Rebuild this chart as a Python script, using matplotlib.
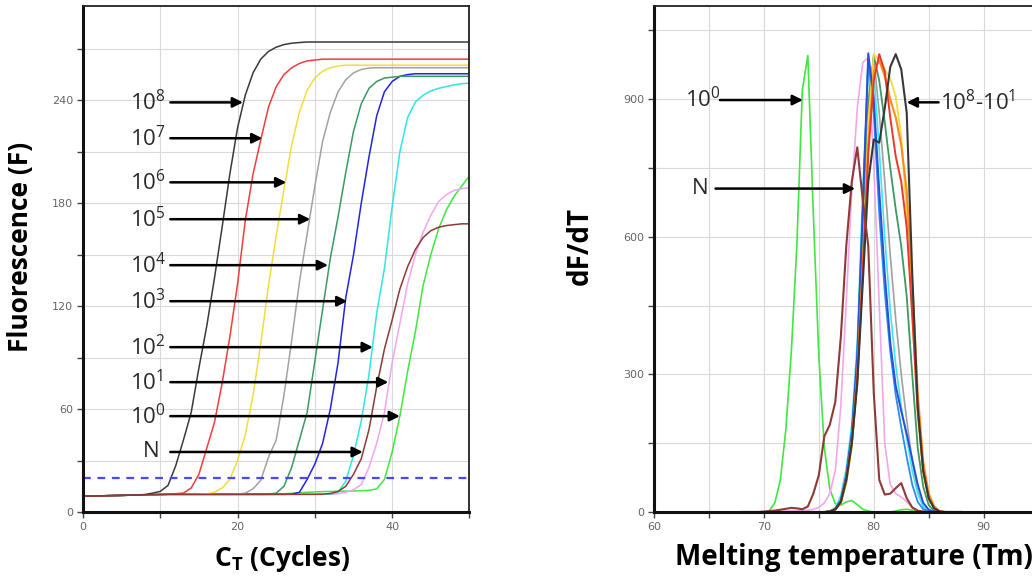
import numpy as np
import matplotlib.pyplot as plt
from matplotlib.ticker import FuncFormatter

plt.rcParams['mathtext.fontset'] = 'custom'
plt.rcParams['mathtext.rm'] = 'Open Sans'
plt.rcParams['mathtext.it'] = 'Open Sans:italic'
plt.rcParams['mathtext.bf'] = 'Open Sans:bold'

# ---- amplification curves: fluorescence per cycle (0..50) ----
cycles = np.arange(0, 51)

amp_black = [9.2, 9.3, 9.4, 9.5, 9.6, 9.7, 9.8, 9.9, 10.2,
             11.0, 12.0, 15.5, 27, 42, 58, 84, 108, 136, 166, 197,
             224, 243, 256, 264, 268.5, 271, 272.5, 273.3, 273.7,
             274, 274, 274, 274, 274, 274, 274, 274, 274, 274, 274,
             274, 274, 274, 274, 274, 274, 274, 274, 274, 274, 274]
amp_red = [9.2, 9.3, 9.4, 9.5, 9.6, 9.7, 9.8, 9.9, 10.0, 10.1, 10.2, 10.4, 10.7,
           11, 14, 22, 37, 52, 75, 102, 133, 170, 197, 217, 236, 248,
           255, 259, 261.5, 263, 263.5,
           264, 264, 264, 264, 264, 264, 264, 264, 264, 264,
           264, 264, 264, 264, 264, 264, 264, 264, 264, 264]
amp_yellow = [9.2, 9.3, 9.4, 9.5, 9.6, 9.7, 9.8, 9.9, 10.0, 10.1, 10.2,
              10.3, 10.3, 10.3, 10.3, 10.4,
              10.5, 11.5, 14, 19, 30, 45, 68, 98, 132, 161, 188, 214, 233,
              246, 253, 257, 259, 260,
              260.5, 260.5, 260.5, 260.5, 260.5, 260.5, 260.5, 260.5, 260.5,
              260.5, 260.5, 260.5, 260.5, 260.5, 260.5, 260.5, 260.5]
amp_gray = [9.2, 9.3, 9.4, 9.5, 9.6, 9.7, 9.8, 9.9, 10.0, 10.1, 10.2,
            10.3, 10.3, 10.3, 10.3, 10.3, 10.3, 10.3, 10.3, 10.3,
            10.4, 11, 13.5, 18.5, 32, 42, 68, 100, 134, 162, 190, 216, 233,
            245, 252, 256, 258, 258.8,
            259, 259, 259, 259, 259, 259, 259, 259, 259, 259, 259, 259, 259]
amp_dkgreen = [9.2, 9.3, 9.4, 9.5, 9.6, 9.7, 9.8, 9.9, 10.0, 10.1, 10.2,
               10.3, 10.3, 10.3, 10.3, 10.3, 10.3, 10.3, 10.3, 10.3, 10.3, 10.3,
               10.3, 10.3,
               10.4, 11, 15, 26, 42, 58, 88, 118, 148, 172, 198, 222, 238,
               247, 251, 253, 253.5,
               254, 254, 254, 254, 254, 254, 254, 254, 254, 254]
amp_blue = [9.2, 9.3, 9.4, 9.5, 9.6, 9.7, 9.8, 9.9, 10.0, 10.1, 10.2,
            10.3, 10.3, 10.3, 10.3, 10.3, 10.3, 10.3, 10.3, 10.3, 10.3, 10.3,
            10.3, 10.3, 10.3, 10.3, 10.3,
            10.4, 11.5, 19, 28, 40, 60, 87, 125, 150, 180, 207, 231, 245,
            251, 254, 255,
            255.5, 255.5, 255.5, 255.5, 255.5, 255.5, 255.5, 255.5]
amp_cyan = [9.2, 9.3, 9.4, 9.5, 9.6, 9.7, 9.8, 9.9, 10.0, 10.1, 10.2,
            10.3, 10.3, 10.3, 10.3, 10.3, 10.3, 10.3, 10.3, 10.3, 10.3, 10.3,
            10.3, 10.3, 10.3, 10.3, 10.3, 10.3, 10.3, 10.3, 10.3, 10.3,
            10.4, 11.5, 18, 33, 53, 80, 116, 142, 178, 210, 230, 239, 243,
            245.5, 247, 248, 249, 249.7, 250]
amp_brown = [9.2, 9.3, 9.4, 9.5, 9.6, 9.7, 9.8, 9.9, 10.0, 10.1, 10.2,
             10.3, 10.3, 10.3, 10.3, 10.3, 10.3, 10.3, 10.3, 10.3, 10.3, 10.3,
             10.3, 10.3, 10.3, 10.3, 10.3, 10.3, 10.3, 10.3, 10.3,
             10.4, 10.8, 12, 15, 22, 31, 48, 73, 95, 112, 130, 143, 153, 160,
             164, 166, 167, 167.5, 168, 168]
amp_pink = [9.2, 9.3, 9.4, 9.5, 9.6, 9.7, 9.8, 9.9, 10.0, 10.1, 10.2,
            10.3, 10.3, 10.3, 10.3, 10.3, 10.3, 10.3, 10.3, 10.3, 10.3, 10.3,
            10.3, 10.3, 10.3, 10.3, 10.3, 10.3, 10.3, 10.3, 10.3, 10.3,
            10.4, 10.7, 11.5, 13, 16, 26, 40, 58, 87, 110, 133, 150, 163,
            173, 181, 185, 187.5, 188.5, 189]
amp_green = [9.2, 9.3, 9.4, 9.5, 9.6, 9.7, 9.8, 9.9, 10.0, 10.1, 10.2,
             10.3, 10.3, 10.3, 10.3, 10.3, 10.3, 10.3, 10.3, 10.3, 10.3, 10.3,
             10.3, 10.3, 10.3, 10.4,
             10.6, 10.9, 11.2, 11.5, 11.7, 11.9, 12.0, 12.1, 12.2, 12.3, 12.4,
             12.6, 13.5, 19, 35, 56, 82, 105, 132, 150, 165, 176, 184, 190, 196]

threshold = 20

# ---- melt curves: dF/dT sampled every 0.5 degC from 68 to 88 ----
temps = np.arange(68.0, 88.5, 0.5)

melt_green = [0, 0, 0, 0,
              0, 3, 20, 70, 180, 350, 580, 920, 995, 650,
              340, 140, 50, 18, 15, 22, 25, 16, 6, 2,
              0, 0, 0, 0, 2, 5, 6, 4, 1, 0,
              0, 0, 0, 0, 0, 0, 0]
melt_brown = [0, 0, 0, 0,
              1, 2, 3, 5, 7, 9, 8, 6, 12, 40,
              80, 165, 190, 240, 380, 580, 720, 795, 680, 580,
              260, 70, 38, 40, 52, 63, 30, 10, 3, 1,
              0, 0, 0, 0, 0, 0, 0]
melt_pink = [0, 0, 0, 0, 0, 0, 1, 1, 2, 2, 3, 3, 4, 6,
             10, 20, 40, 90, 230, 460, 700, 880, 980, 990,
             760, 450, 150, 60, 40, 33, 22, 10, 3, 1,
             0, 0, 0, 0, 0, 0, 0]
melt_black = [0, 0, 0, 0, 0, 0, 0, 0, 0, 0, 0, 0, 0, 0, 0, 0,
              1, 6, 22, 70, 150, 280, 500, 720, 812, 805, 880, 970, 998,
              965, 870, 520, 230, 90, 30, 8, 1, 0, 0, 0, 0]
melt_red = [0, 0, 0, 0, 0, 0, 0, 0, 0, 0, 0, 0, 0, 0, 0, 0,
            1, 5, 20, 70, 150, 290, 520, 780, 940, 998, 960, 860, 775,
            720, 620, 430, 220, 90, 30, 8, 1, 0, 0, 0, 0]
melt_orange = [0, 0, 0, 0, 0, 0, 0, 0, 0, 0, 0, 0, 0, 0, 0, 0,
               1, 6, 22, 72, 155, 300, 540, 800, 960, 985, 950, 900, 860,
               800, 700, 500, 260, 110, 40, 12, 2, 0, 0, 0, 0]
melt_yellow = [0, 0, 0, 0, 0, 0, 0, 0, 0, 0, 0, 0, 0, 0, 0, 0,
               1, 5, 18, 62, 140, 280, 520, 850, 998, 985, 965, 945, 905,
               820, 650, 430, 210, 85, 28, 7, 1, 0, 0, 0, 0]
melt_dkgreen = [0, 0, 0, 0, 0, 0, 0, 0, 0, 0, 0, 0, 0, 0, 0, 0,
                1, 6, 20, 65, 145, 290, 570, 880, 995, 940, 850, 750, 660,
                580, 470, 300, 140, 55, 15, 3, 0, 0, 0, 0, 0]
melt_gray = [0, 0, 0, 0, 0, 0, 0, 0, 0, 0, 0, 0, 0, 0, 0, 0,
             1, 6, 20, 65, 145, 290, 580, 900, 990, 870, 720, 560, 420,
             300, 200, 110, 45, 12, 2, 0, 0, 0, 0, 0, 0]
melt_blue = [0, 0, 0, 0, 0, 0, 0, 0, 0, 0, 0, 0, 0, 0, 0, 0,
             1, 7, 25, 80, 170, 340, 660, 1000, 900, 700, 520, 370, 275,
             220, 170, 115, 60, 20, 5, 1, 0, 0, 0, 0, 0]
melt_dodger = [0, 0, 0, 0, 0, 0, 0, 0, 0, 0, 0, 0, 0, 0, 0, 0,
               1, 7, 25, 80, 170, 340, 650, 990, 870, 650, 480, 350, 255,
               185, 120, 60, 22, 6, 1, 0, 0, 0, 0, 0, 0]
melt_cyan = [0, 0, 0, 0, 0, 0, 0, 0, 0, 0, 0, 0, 0, 0, 0, 0,
             2, 10, 35, 95, 190, 370, 700, 960, 960, 790, 600, 440, 320,
             230, 160, 90, 40, 12, 2, 0, 0, 0, 0, 0, 0]

fig = plt.figure(figsize=(10.32, 5.76), dpi=100)
fig.patch.set_facecolor('white')

ax1 = fig.add_axes([0.0804, 0.1111, 0.3745, 0.8785])
ax2 = fig.add_axes([0.6337, 0.1111, 0.3663, 0.8785])

tick_col = '#666666'
grid_col = '#dadada'


def style_axes(ax, xmaj, ymaj, xlab_every, ylab_every, right_spine=True):
    ax.set_xticks(xmaj)
    ax.set_yticks(ymaj)
    ax.xaxis.set_major_formatter(FuncFormatter(
        lambda v, p: '%d' % v if round(v) % xlab_every == 0 else ''))
    ax.yaxis.set_major_formatter(FuncFormatter(
        lambda v, p: '%d' % v if round(v) % ylab_every == 0 else ''))
    ax.grid(True, color=grid_col, lw=0.8)
    ax.set_axisbelow(True)
    ax.tick_params(direction='out', length=4, width=1, color='#444444',
                   labelcolor=tick_col, labelsize=8, pad=3)
    for s in ('left', 'bottom'):
        ax.spines[s].set_linewidth(2.2)
        ax.spines[s].set_color('#111111')
    ax.spines['top'].set_linewidth(1.3)
    ax.spines['top'].set_color('#222222')
    if right_spine:
        ax.spines['right'].set_linewidth(1.3)
        ax.spines['right'].set_color('#222222')
    else:
        ax.spines['right'].set_visible(False)


# ---- left: amplification ----
amp_series = [
    (amp_green, '#3ee83e'),
    (amp_pink, '#f2a6ee'),
    (amp_cyan, '#2ee6e6'),
    (amp_blue, '#2424e0'),
    (amp_dkgreen, '#3a9a62'),
    (amp_gray, '#a2a2a2'),
    (amp_yellow, '#f4dc3a'),
    (amp_red, '#f23c3c'),
    (amp_black, '#3a3a3a'),
    (amp_brown, '#8e3a36'),
]
for vals, col in amp_series:
    ax1.plot(cycles, vals, color=col, lw=1.1, solid_joinstyle='round')
ax1.axhline(threshold, color='#4848ff', lw=1.6, ls=(0, (3.5, 3)))

ax1.set_xlim(0, 50)
ax1.set_ylim(0, 295)
style_axes(ax1, np.arange(0, 51, 10), np.arange(0, 291, 30), 20, 60)

ax1.set_xlabel(r'C$_{\mathbf{T}}$ (Cycles)', fontsize=19, fontweight='bold',
               family='Open Sans', va='top')
ax1.xaxis.set_label_coords(0.516, -0.062)
ax1.set_ylabel('Fluorescence (F)', fontsize=19, fontweight='bold',
               family='Open Sans')
ax1.yaxis.set_label_coords(-0.128, 0.524)

amp_labels = ['10$^{8}$', '10$^{7}$', '10$^{6}$', '10$^{5}$', '10$^{4}$',
              '10$^{3}$', '10$^{2}$', '10$^{1}$', '10$^{0}$', 'N']
amp_label_y = [238.8, 217.9, 192.2, 170.7, 143.9, 122.9, 96.1, 75.7, 55.9, 35.0]
amp_arrow_tip = [20.7, 23.2, 26.3, 29.4, 31.7, 34.2, 37.5, 39.5, 41.0, 36.2]

arrow_kw = dict(arrowstyle='-|>', color='black', lw=1.8, mutation_scale=15,
                shrinkA=0, shrinkB=0)
for lab, y, tip in zip(amp_labels, amp_label_y, amp_arrow_tip):
    tx = 7.8 if lab == 'N' else 6.1
    ax1.text(tx, y, lab, fontsize=16, family='Open Sans', color='#2a2a2a',
             ha='left', va='center')
    ax1.annotate('', xy=(tip, y), xytext=(11.3, y), arrowprops=arrow_kw)

# ---- right: melt curves ----
melt_series = [
    (melt_green, '#3ee83e', 1.2),
    (melt_pink, '#f2a6ee', 1.2),
    (melt_gray, '#a0a0a0', 1.2),
    (melt_cyan, '#3ee6ee', 1.2),
    (melt_dodger, '#2a8cf0', 1.3),
    (melt_dkgreen, '#3a9a62', 1.3),
    (melt_yellow, '#f4dc3a', 1.3),
    (melt_blue, '#2a4ed8', 1.4),
    (melt_orange, '#ff8a1e', 1.5),
    (melt_red, '#e8382e', 1.4),
    (melt_black, '#383838', 1.5),
    (melt_brown, '#8e3a36', 1.5),
]
for vals, col, w in melt_series:
    ax2.plot(temps, vals, color=col, lw=w, solid_joinstyle='round')

ax2.set_xlim(60, 94.4)
ax2.set_ylim(0, 1103)
style_axes(ax2, np.arange(60, 91, 5), np.arange(0, 1051, 150), 10, 300,
           right_spine=False)

ax2.set_xlabel('Melting temperature (Tm)', fontsize=20, fontweight='bold',
               family='Open Sans', va='top')
ax2.xaxis.set_label_coords(0.528, -0.062)
ax2.set_ylabel('dF/dT', fontsize=20, fontweight='bold', family='Open Sans')
ax2.yaxis.set_label_coords(-0.156, 0.526)

ax2.text(62.8, 898, '10$^{0}$', fontsize=16, family='Open Sans',
         color='#2a2a2a', ha='left', va='center')
ax2.annotate('', xy=(73.55, 898), xytext=(66.0, 898), arrowprops=arrow_kw)
ax2.text(63.45, 705, 'N', fontsize=16, family='Open Sans', color='#2a2a2a',
         ha='left', va='center')
ax2.annotate('', xy=(78.3, 705), xytext=(65.6, 705), arrowprops=arrow_kw)
ax2.text(86.0, 893, '10$^{8}$-10$^{1}$', fontsize=16, family='Open Sans',
         color='#2a2a2a', ha='left', va='center')
ax2.annotate('', xy=(83.0, 893), xytext=(85.9, 893), arrowprops=arrow_kw)

fig.savefig('out.png', dpi=100, facecolor='white')
